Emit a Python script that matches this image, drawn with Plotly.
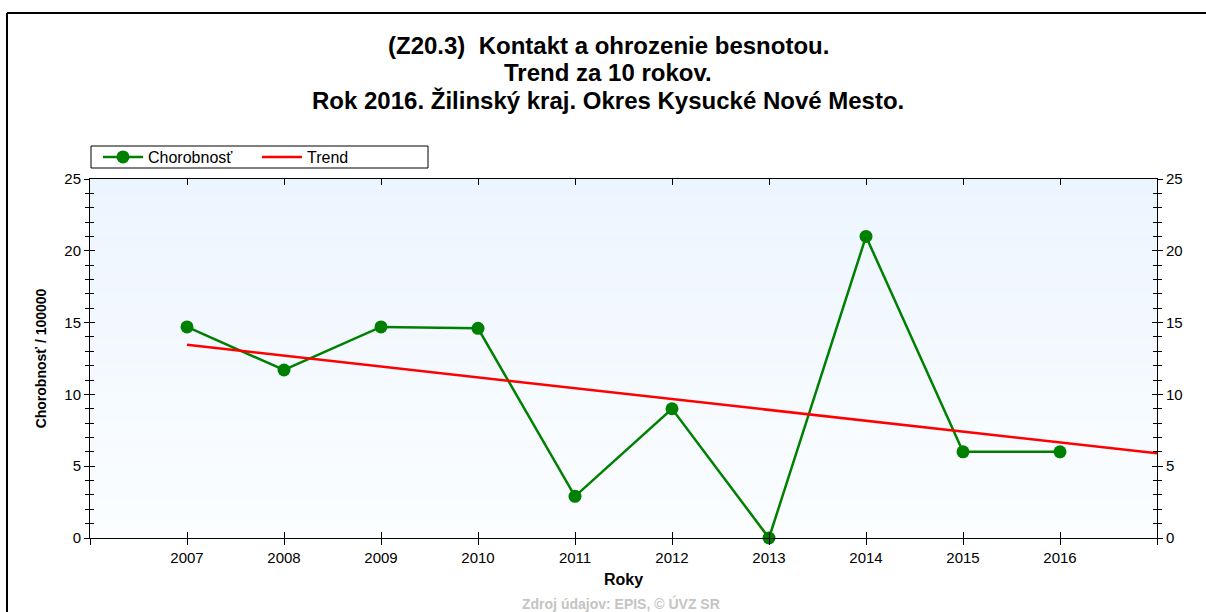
import plotly.graph_objects as go

# Incidence per 100 000 inhabitants, 2007-2016
years = [2007, 2008, 2009, 2010, 2011, 2012, 2013, 2014, 2015, 2016]
chorobnost = [14.7, 11.7, 14.7, 14.6, 2.9, 9.0, 0.0, 21.0, 6.0, 6.0]

# Linear trend line (start / end)
trend_years = [2007, 2017]
trend_values = [13.45, 5.9]

x_tick_vals = list(range(2006, 2018))
x_tick_text = [""] + [str(y) for y in years] + [""]
y_tick_vals = [0, 5, 10, 15, 20, 25]

title_lines = [
    "(Z20.3)  Kontakt a ohrozenie besnotou.",
    "Trend za 10 rokov.",
    "Rok 2016. Žilinský kraj. Okres Kysucké Nové Mesto.",
]

W, H = 1206, 612
L, R, T, B = 90, 49, 179, 74
pw, ph = W - L - R, H - T - B


def px_x(x):
    return (x - L) / pw


def px_y(y):
    return (H - B - y) / ph


FONT = "Liberation Sans, Arial, sans-serif"

fig = go.Figure()

fig.add_trace(go.Scatter(
    x=years, y=chorobnost, name="Chorobnosť", mode="lines+markers",
    line=dict(color="#008000", width=2.5),
    marker=dict(color="#008000", size=13),
    cliponaxis=False,
))
fig.add_trace(go.Scatter(
    x=trend_years, y=trend_values, name="Trend", mode="lines",
    line=dict(color="#ff0000", width=2.5),
))

# soft vertical gradient in the plot area
shapes = []
n = 40
top_c = (236, 245, 255)
bot_c = (251, 253, 255)
for i in range(n):
    t = i / (n - 1)
    c = tuple(round(top_c[k] + (bot_c[k] - top_c[k]) * t) for k in range(3))
    shapes.append(dict(
        type="rect", xref="x domain", yref="y domain",
        x0=0, x1=1, y0=1 - (i + 1) / n, y1=1 - i / n,
        fillcolor="rgb(%d,%d,%d)" % c, line=dict(width=0), layer="below",
    ))
# outer frame
shapes.append(dict(type="line", xref="paper", yref="paper",
                   x0=px_x(7), x1=px_x(1206), y0=px_y(13), y1=px_y(13),
                   line=dict(color="black", width=2)))
shapes.append(dict(type="line", xref="paper", yref="paper",
                   x0=px_x(7), x1=px_x(7), y0=px_y(13), y1=px_y(612),
                   line=dict(color="black", width=2)))
# legend frame
shapes.append(dict(type="rect", xref="paper", yref="paper",
                   x0=px_x(91), x1=px_x(428), y0=px_y(168), y1=px_y(146),
                   line=dict(color="black", width=1), fillcolor="white",
                   layer="below"))

annotations = []
for line, yy in zip(title_lines, [45, 72, 100]):
    annotations.append(dict(
        text=line, xref="paper", yref="paper", x=px_x(608), y=px_y(yy),
        xanchor="center", yanchor="middle", showarrow=False,
        font=dict(family=FONT, size=24, color="#000000", weight="bold"),
    ))
annotations.append(dict(
    text="Zdroj údajov: EPIS, © ÚVZ SR", xref="paper", yref="paper",
    x=px_x(621), y=px_y(603), xanchor="center", yanchor="middle",
    showarrow=False,
    font=dict(family=FONT, size=14, color="#c4c4c4", weight="bold"),
))

tickfont = dict(family=FONT, size=15, color="#000000")

fig.update_layout(
    width=W, height=H,
    margin=dict(l=L, r=R, t=T, b=B),
    paper_bgcolor="white", plot_bgcolor="rgba(0,0,0,0)",
    shapes=shapes, annotations=annotations,
    showlegend=True,
    legend=dict(
        orientation="h", x=px_x(98), y=px_y(157), xanchor="left",
        yanchor="middle", borderwidth=0, bgcolor="rgba(0,0,0,0)",
        font=dict(family=FONT, size=16, color="#000000"),
        itemwidth=40, entrywidth=104,
    ),
    xaxis=dict(
        range=[2006, 2017], tickvals=x_tick_vals, ticktext=x_tick_text,
        showgrid=False, zeroline=False, showline=True, linecolor="black",
        linewidth=1, mirror=True, ticks="outside", ticklen=6,
        tickcolor="black", tickfont=tickfont,
        title=dict(text="<b>Roky</b>",
                   font=dict(family=FONT, size=16, color="#000000"),
                   standoff=8),
    ),
    xaxis2=dict(
        overlaying="x", side="bottom", range=[2006, 2017],
        tickvals=x_tick_vals, showticklabels=False, showgrid=False,
        zeroline=False, ticks="inside", ticklen=6, tickcolor="black",
        mirror="ticks", showline=False,
    ),
    yaxis=dict(
        range=[0, 25], tickvals=y_tick_vals, showgrid=False, zeroline=False,
        showline=True, linecolor="black", linewidth=1, mirror=True,
        ticks="outside", ticklen=5, tickcolor="black", tickfont=tickfont,
        minor=dict(dtick=1, ticks="outside", ticklen=4, tickcolor="black"),
        title=dict(text="<b>Chorobnosť / 100000</b>",
                   font=dict(family=FONT, size=14, color="#000000"),
                   standoff=14),
    ),
    yaxis2=dict(
        overlaying="y", side="right", range=[0, 25], tickvals=y_tick_vals,
        showgrid=False, zeroline=False, showline=False,
        ticks="outside", ticklen=5, tickcolor="black", tickfont=tickfont,
        minor=dict(dtick=1, ticks="outside", ticklen=4, tickcolor="black"),
    ),
    yaxis3=dict(
        overlaying="y", side="left", range=[0, 25], tickvals=y_tick_vals,
        showgrid=False, zeroline=False, showline=False, showticklabels=False,
        ticks="inside", ticklen=5, tickcolor="black", mirror="ticks",
        minor=dict(dtick=1, ticks="inside", ticklen=4, tickcolor="black"),
    ),
)

# empty helper traces so the overlay axes are drawn
fig.add_trace(go.Scatter(x=[None], y=[None], xaxis="x2", yaxis="y2",
                         showlegend=False, hoverinfo="skip"))
fig.add_trace(go.Scatter(x=[None], y=[None], xaxis="x2", yaxis="y3",
                         showlegend=False, hoverinfo="skip"))

fig.write_html("out.html")
